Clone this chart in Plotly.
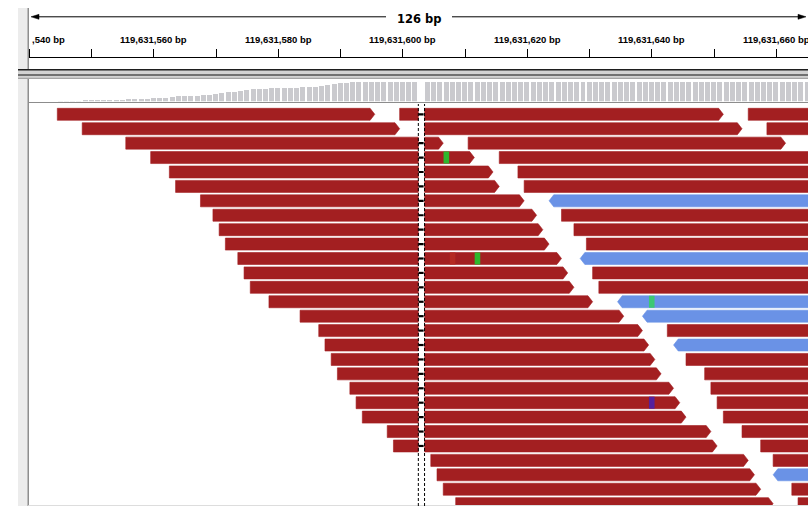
import plotly.graph_objects as go

W, H = 808, 506
CHROM_BASE = 119631000

# ---------------- data ----------------
VIEW_START = 540.0          # offsets from CHROM_BASE
VIEW_END = 665.1
SPAN_LABEL = "126 bp"

tick_positions = [540, 550, 560, 570, 580, 590, 600, 610, 620, 630, 640, 650, 660]
label_positions = [560, 580, 600, 620, 640, 660]
label_texts = ["119,631,560 bp", "119,631,580 bp", "119,631,600 bp",
               "119,631,620 bp", "119,631,640 bp", "119,631,660 bp"]
clipped_label_pos = 540
clipped_label_text = ",540 bp"

# coverage per base, positions 540..665
coverage_pos = list(range(540, 666))
coverage = [0, 0, 0, 0, 0, 1, 1, 1, 1,
            2, 2, 2, 2, 2, 2, 2,
            3, 3, 3, 3,
            4, 4, 4, 5,
            6, 6, 6, 6,
            7, 7, 8, 9, 10, 10, 11, 12,
            13, 13, 13,
            14, 14, 14, 14, 14,
            15, 15, 15, 16, 17, 18, 19, 19, 20, 21,
            22, 22, 22, 22, 23, 24,
            24, 24, 24, 0,
            25, 26, 27, 27, 27, 28, 28, 29,
            29, 30, 30, 30, 31, 31, 31, 32, 32, 32, 31, 31, 32, 32, 33, 33,
            33, 32, 32, 33, 33, 33, 34, 34, 33, 33, 33, 34, 34, 34, 33, 33,
            33, 32, 32, 32, 33, 33, 32, 32, 31, 31, 31, 30, 30, 30, 29, 29,
            29, 28, 28, 28, 27, 27]

# reads: row, start, end (offsets, inclusive bases), strand
read_rows = [0, 0, 0, 1, 1, 1, 2, 2, 3, 3, 4, 4, 5, 5, 6, 6, 7, 7, 8, 8,
             9, 9, 10, 10, 11, 11, 12, 12, 13, 13, 14, 14, 15, 15, 16, 16,
             17, 17, 18, 18, 19, 19, 20, 20, 21, 21, 22, 22, 23, 23, 24, 24,
             25, 25, 26, 26, 27, 27]
read_starts = [545, 600, 656, 549, 604, 659, 556, 611, 560, 616, 563, 619, 564, 620,
               568, 624, 570, 626, 571, 628, 572, 630, 574, 629, 575, 631, 576, 632,
               579, 635, 584, 639, 587, 643, 588, 644, 589, 646, 590, 649, 592, 650,
               593, 651, 594, 652, 598, 655, 599, 658, 605, 660, 606, 660, 607, 663,
               609, 664]
read_ends = [595, 651, 706, 599, 654, 709, 606, 661, 611, 666, 614, 669, 615, 670,
             619, 674, 621, 676, 622, 678, 623, 680, 625, 679, 626, 681, 627, 682,
             630, 685, 635, 689, 638, 693, 639, 694, 640, 696, 641, 699, 643, 700,
             644, 701, 645, 702, 649, 705, 650, 708, 655, 710, 656, 710, 657, 713,
             659, 714]
read_strands = ["+", "+", "+", "+", "+", "+", "+", "+", "+", "+", "+", "+", "+", "+",
                "+", "-", "+", "+", "+", "+", "+", "+", "+", "-", "+", "+", "+", "+",
                "+", "-", "+", "-", "+", "+", "+", "-", "+", "+", "+", "+", "+", "+",
                "+", "+", "+", "+", "+", "+", "+", "+", "+", "+", "+", "-", "+", "+",
                "+", "+"]

DELETION_POS = 603

mismatch_rows = [3, 10, 10, 13, 20]
mismatch_pos = [607, 608, 612, 640, 640]
mismatch_colors = ["#2db82d", "#b42a22", "#2db82d", "#3cc873", "#55209c"]

# ---------------- styling ----------------
RED = "#a31f21"
BLUE = "#6a92e6"
COV_COLOR = "#cacace"

ROW_TOP_PX = 114.3
ROW_PITCH = 14.42
HALF = 6.0 / ROW_PITCH
ARROW = 0.75


def px(x):
    return x / W


def py(y):
    return 1 - y / H


def xdat(v):
    return CHROM_BASE + v


def read_polys(a, b, strand, r, dele):
    """return list of polygons (lists of (x,y)) for a read spanning edges a..b"""
    if dele is not None and a < dele - 0.5 and b > dele + 0.5:
        pieces = [(a, dele - 0.5, "L" if strand == "-" else None),
                  (dele + 0.5, b, "R" if strand == "+" else None)]
    else:
        pieces = [(a, b, "R" if strand == "+" else "L")]
    polys = []
    for (s, e, arr) in pieces:
        t, btm = r - HALF, r + HALF
        if arr == "R":
            pts = [(s, t), (e - ARROW, t), (e, r), (e - ARROW, btm), (s, btm), (s, t)]
        elif arr == "L":
            pts = [(s + ARROW, t), (e, t), (e, btm), (s + ARROW, btm), (s, r), (s + ARROW, t)]
        else:
            pts = [(s, t), (e, t), (e, btm), (s, btm), (s, t)]
        polys.append(pts)
    return polys


fig = go.Figure()

# coverage track
fig.add_trace(go.Bar(
    x=[xdat(p) for p in coverage_pos], y=coverage, width=0.8,
    marker=dict(color=COV_COLOR, line=dict(width=0)),
    xaxis="x", yaxis="y2", hoverinfo="skip", showlegend=False))

# reads
for color, strand_sel in ((RED, "+"), (BLUE, "-")):
    xs, ys = [], []
    for r, s, e, st in zip(read_rows, read_starts, read_ends, read_strands):
        if st != strand_sel:
            continue
        for poly in read_polys(s - 0.5, e + 0.5, st, r, DELETION_POS):
            for (x, y) in poly:
                xs.append(xdat(x))
                ys.append(y)
            xs.append(None)
            ys.append(None)
    fig.add_trace(go.Scatter(
        x=xs, y=ys, mode="lines", fill="toself", fillcolor=color,
        line=dict(color=color, width=0.6), hoverinfo="skip", showlegend=False,
        xaxis="x", yaxis="y"))

# mismatches
for r, p, c in zip(mismatch_rows, mismatch_pos, mismatch_colors):
    a, b = p - 0.45, p + 0.45
    fig.add_trace(go.Scatter(
        x=[xdat(a), xdat(b), xdat(b), xdat(a), xdat(a)],
        y=[r - HALF, r - HALF, r + HALF, r + HALF, r - HALF],
        mode="lines", fill="toself", fillcolor=c, line=dict(color=c, width=0),
        hoverinfo="skip", showlegend=False, xaxis="x", yaxis="y"))

# deletion marks
dx, dy = [], []
for r, s, e in zip(read_rows, read_starts, read_ends):
    if s < DELETION_POS < e:
        dx += [xdat(DELETION_POS - 0.45), xdat(DELETION_POS + 0.35), None]
        dy += [r, r, None]
fig.add_trace(go.Scatter(x=dx, y=dy, mode="lines", line=dict(color="black", width=2.2),
                         hoverinfo="skip", showlegend=False, xaxis="x", yaxis="y"))

# dummy for ruler axis
fig.add_trace(go.Scatter(x=[xdat(VIEW_START)], y=[0.5], mode="markers",
                         marker=dict(opacity=0), hoverinfo="skip", showlegend=False,
                         xaxis="x2", yaxis="y3"))

x_dom = [29.3 / W, 1.0]
x_rng = [xdat(VIEW_START), xdat(VIEW_END)]
row_top = (104 - ROW_TOP_PX) / ROW_PITCH
row_bot = (506 - ROW_TOP_PX) / ROW_PITCH

shapes = []
# left gray strip and separator line
shapes.append(dict(type="rect", xref="paper", yref="paper", x0=px(18), x1=px(27.6),
                   y0=py(506), y1=py(8), fillcolor="#ececec", line=dict(width=0), layer="below"))
shapes.append(dict(type="line", xref="paper", yref="paper", x0=px(28.2), x1=px(28.2),
                   y0=py(506), y1=py(8), line=dict(color="#7a7a7a", width=1.3)))
# splitter
shapes.append(dict(type="rect", xref="paper", yref="paper", x0=px(18), x1=1,
                   y0=py(79), y1=py(69), fillcolor="#d2d2d2", line=dict(width=0)))
for yy, col, wd in ((69.8, "#1e1e1e", 1.6), (75.0, "#505050", 1.6), (78.3, "#9a9a9a", 1.0)):
    shapes.append(dict(type="line", xref="paper", yref="paper", x0=px(18), x1=1,
                       y0=py(yy), y1=py(yy), line=dict(color=col, width=wd)))
# coverage baseline
shapes.append(dict(type="line", xref="paper", yref="paper", x0=px(28.2), x1=1,
                   y0=py(102.5), y1=py(102.5), line=dict(color="#8c8c8c", width=1.2)))
# bottom light line
shapes.append(dict(type="line", xref="paper", yref="paper", x0=px(28.2), x1=1,
                   y0=py(505.5), y1=py(505.5), line=dict(color="#dddddd", width=1)))
# center lines around the center base
for cx in (DELETION_POS - 0.5, DELETION_POS + 0.5):
    shapes.append(dict(type="line", xref="x", yref="paper", x0=xdat(cx), x1=xdat(cx),
                       y0=py(506), y1=py(104), line=dict(color="black", width=1, dash="3px,2px")))
# span arrow line
RY = 16.8
shapes.append(dict(type="line", xref="paper", yref="paper", x0=px(36), x1=px(386),
                   y0=py(RY), y1=py(RY), line=dict(color="black", width=1)))
shapes.append(dict(type="line", xref="paper", yref="paper", x0=px(452), x1=px(800),
                   y0=py(RY), y1=py(RY), line=dict(color="black", width=1)))
shapes.append(dict(type="path", xref="paper", yref="paper",
                   path=f"M {px(31)} {py(RY)} L {px(39)} {py(RY-2.5)} L {px(39)} {py(RY+2.5)} Z",
                   fillcolor="black", line=dict(color="black", width=0.5)))
shapes.append(dict(type="path", xref="paper", yref="paper",
                   path=f"M {px(806)} {py(RY)} L {px(798)} {py(RY-2.5)} L {px(798)} {py(RY+2.5)} Z",
                   fillcolor="black", line=dict(color="black", width=0.5)))

annotations = [dict(text=SPAN_LABEL, xref="paper", yref="paper", x=px(419), y=py(18.5),
                    xanchor="center", yanchor="middle", showarrow=False,
                    font=dict(family="DejaVu Sans", size=11.5, color="black", weight="bold"))]
LBL_FONT = dict(family="Liberation Sans", size=9.5, color="black", weight="bold")
for p, t in zip(label_positions, label_texts):
    annotations.append(dict(text=t, xref="x", yref="paper", x=xdat(p), y=py(40),
                            xanchor="center", yanchor="middle", showarrow=False, font=LBL_FONT))
annotations.append(dict(text=clipped_label_text, xref="x", yref="paper", x=xdat(clipped_label_pos),
                        y=py(40), xanchor="left", yanchor="middle", showarrow=False,
                        xshift=1, font=LBL_FONT))

fig.update_layout(
    width=W, height=H, autosize=False,
    margin=dict(l=0, r=0, t=0, b=0, pad=0),
    paper_bgcolor="white", plot_bgcolor="rgba(0,0,0,0)",
    showlegend=False, bargap=0,
    xaxis=dict(domain=x_dom, range=x_rng, visible=False, anchor="y", fixedrange=True),
    yaxis=dict(domain=[0, py(104)], range=[row_bot, row_top], visible=False, anchor="x"),
    yaxis2=dict(domain=[py(101.2), py(82)], range=[1, 20], visible=False, anchor="x"),
    xaxis2=dict(domain=x_dom, range=x_rng, anchor="y3", side="top",
                tickmode="array", tickvals=[xdat(t) for t in tick_positions],
                ticktext=["" for _ in tick_positions],
                ticks="outside", ticklen=8, tickwidth=1, tickcolor="black",
                showline=True, linecolor="black", linewidth=1.2,
                showgrid=False, zeroline=False),
    yaxis3=dict(domain=[py(69), py(58.3)], range=[0, 1], visible=False, anchor="x2"),
    shapes=shapes,
    annotations=annotations,
)

fig.write_html(
    "out.html",
    config={"displayModeBar": False},
    post_script="document.body.style.margin='0px';document.body.style.padding='0px';",
)
